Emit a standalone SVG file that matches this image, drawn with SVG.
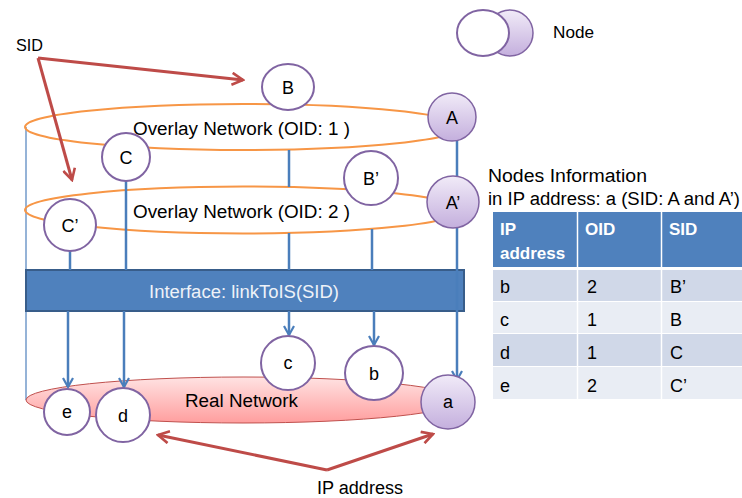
<svg xmlns="http://www.w3.org/2000/svg" width="742" height="498" viewBox="0 0 742 498">
<style>
text{font-family:"Liberation Sans","DejaVu Sans",sans-serif;fill:#000}
.lbl{font-size:18px;text-anchor:middle}
.node{fill:#fff;stroke:#8064a2;stroke-width:2}
.pnode{fill:url(#pg);stroke:#8064a2;stroke-width:1.5}
.ov{fill:none;stroke:#f79646;stroke-width:2}
.bl{stroke:#4a7ebb;stroke-width:2.5;fill:none}
.rd{stroke:#be4b48;stroke-width:3;fill:none}
.th{font-size:17px;font-weight:bold;fill:#fff}
.td{font-size:18px}
</style>
<defs>
<linearGradient id="pg" x1="0" y1="0" x2="0" y2="1"><stop offset="0" stop-color="#f1ebf8"/><stop offset="1" stop-color="#c4afdd"/></linearGradient>
<linearGradient id="rg" x1="0" y1="0" x2="0" y2="1"><stop offset="0" stop-color="#ffe3e3"/><stop offset="1" stop-color="#ff9e9e"/></linearGradient>
<marker id="ab" viewBox="0 0 12 12" refX="10" refY="6" markerWidth="12" markerHeight="12" orient="auto" markerUnits="userSpaceOnUse"><path d="M1,1 L10,6 L1,11" fill="none" stroke="#4a7ebb" stroke-width="2.2"/></marker>
<marker id="ar" viewBox="0 0 14 14" refX="12" refY="7" markerWidth="14" markerHeight="14" orient="auto" markerUnits="userSpaceOnUse"><path d="M1,1 L12,7 L1,13" fill="none" stroke="#be4b48" stroke-width="2.6"/></marker>
</defs>
<rect width="742" height="498" fill="#fff"/>
<!-- legend -->
<g id="legend">
<ellipse cx="510" cy="33" rx="23" ry="23" class="pnode"/>
<ellipse cx="483" cy="33" rx="26" ry="23" class="node"/>
<text x="553" y="38" font-size="17" textLength="41" lengthAdjust="spacingAndGlyphs">Node</text>
</g>
<!-- background layers -->
<g id="layers">
<line x1="26" y1="127" x2="26" y2="400" stroke="#95b3d7" stroke-width="2"/>
<ellipse cx="243" cy="127" rx="218" ry="23" class="ov"/>
<ellipse cx="243" cy="210" rx="218" ry="23.5" class="ov"/>
<text x="133" y="135" font-size="18" textLength="217" lengthAdjust="spacingAndGlyphs">Overlay Network (OID: 1 )</text>
<text x="133" y="218" font-size="18" textLength="217" lengthAdjust="spacingAndGlyphs">Overlay Network (OID: 2 )</text>
<ellipse cx="243" cy="400" rx="217" ry="23" fill="url(#rg)" stroke="#c0504d" stroke-width="1"/>
<text x="185" y="407" font-size="18" textLength="113" lengthAdjust="spacingAndGlyphs">Real Network</text>
</g>
<g id="interface">
<rect x="26" y="270" width="438" height="41" fill="#4f81bd" stroke="#385d8a" stroke-width="2"/>
<text x="149" y="298" font-size="18" textLength="190" lengthAdjust="spacingAndGlyphs" style="fill:#eef2f8">Interface: linkToIS(SID)</text>
</g>
<!-- connectors -->
<g id="connectors">
<line x1="289" y1="150" x2="289" y2="187" class="bl"/>
<line x1="289" y1="233" x2="289" y2="270" class="bl"/>
<line x1="372" y1="229" x2="372" y2="270" class="bl"/>
<line x1="126" y1="181" x2="126" y2="270" class="bl"/>
<line x1="70" y1="251" x2="70" y2="270" class="bl"/>
<line x1="457" y1="140" x2="457" y2="380" class="bl" marker-end="url(#ab)"/>
<line x1="68" y1="311" x2="68" y2="387" class="bl" marker-end="url(#ab)"/>
<line x1="124" y1="311" x2="124" y2="387" class="bl" marker-end="url(#ab)"/>
<line x1="289" y1="311" x2="289" y2="335" class="bl" marker-end="url(#ab)"/>
<line x1="374" y1="311" x2="374" y2="345" class="bl" marker-end="url(#ab)"/>
<polyline points="38,58 243,80" class="rd" marker-end="url(#ar)"/>
<polyline points="38,58 72,180" class="rd" marker-end="url(#ar)"/>
<polyline points="327,470 158,435" class="rd" marker-end="url(#ar)"/>
<polyline points="327,470 433,434" class="rd" marker-end="url(#ar)"/>
</g>
<!-- nodes -->
<g id="node-B"><ellipse cx="288" cy="87" rx="26" ry="23" class="node"/><text x="288" y="94" class="lbl">B</text></g>
<g id="node-A"><circle cx="452" cy="117" r="24" class="pnode"/><text x="452" y="124" class="lbl">A</text></g>
<g id="node-C"><circle cx="126" cy="157" r="24" class="node"/><text x="126" y="164" class="lbl">C</text></g>
<g id="node-Bp"><circle cx="371" cy="178" r="27" class="node"/><text x="371" y="185" class="lbl">B’</text></g>
<g id="node-Ap"><circle cx="453" cy="202" r="26" class="pnode"/><text x="453" y="209" class="lbl">A’</text></g>
<g id="node-Cp"><circle cx="70" cy="225" r="26" class="node"/><text x="70" y="232" class="lbl">C’</text></g>
<g id="node-c"><circle cx="288" cy="363" r="27" class="node"/><text x="288" y="369" class="lbl">c</text></g>
<g id="node-b"><ellipse cx="374" cy="373" rx="29" ry="27" class="node"/><text x="374" y="380" class="lbl">b</text></g>
<g id="node-a"><circle cx="448" cy="402" r="27" class="pnode"/><text x="448" y="408" class="lbl">a</text></g>
<g id="node-e"><circle cx="67" cy="412" r="23" class="node"/><text x="67" y="418" class="lbl">e</text></g>
<g id="node-d"><circle cx="123" cy="415" r="27" class="node"/><text x="123" y="422" class="lbl">d</text></g>
<!-- labels -->
<text x="16" y="51" font-size="17" textLength="27" lengthAdjust="spacingAndGlyphs">SID</text>
<text x="317" y="494" font-size="18" textLength="86" lengthAdjust="spacingAndGlyphs">IP address</text>
<!-- table -->
<g id="table">
<text x="488" y="182" font-size="18" textLength="159" lengthAdjust="spacingAndGlyphs">Nodes Information</text>
<text x="488" y="205" font-size="18" textLength="252" lengthAdjust="spacingAndGlyphs">in IP address: a (SID: A and A’)</text>
<rect x="493" y="212" width="249" height="55" fill="#4f81bd"/>
<rect x="493" y="270" width="249" height="31" fill="#d0d8e8"/>
<rect x="493" y="302" width="249" height="31" fill="#e9edf4"/>
<rect x="493" y="334" width="249" height="32" fill="#d0d8e8"/>
<rect x="493" y="367" width="249" height="32" fill="#e9edf4"/>
<line x1="577.5" y1="212" x2="577.5" y2="399" stroke="#fff" stroke-width="1.5"/>
<line x1="661.5" y1="212" x2="661.5" y2="399" stroke="#fff" stroke-width="1.5"/>
<text x="500" y="235" class="th">IP</text>
<text x="500" y="259" class="th">address</text>
<text x="585" y="235" class="th">OID</text>
<text x="669" y="235" class="th">SID</text>
<text x="500" y="293" class="td">b</text><text x="587" y="293" class="td">2</text><text x="670" y="293" class="td">B’</text>
<text x="500" y="326" class="td">c</text><text x="587" y="326" class="td">1</text><text x="670" y="326" class="td">B</text>
<text x="500" y="359" class="td">d</text><text x="587" y="359" class="td">1</text><text x="670" y="359" class="td">C</text>
<text x="500" y="392" class="td">e</text><text x="587" y="392" class="td">2</text><text x="670" y="392" class="td">C’</text>
</g>
</svg>
